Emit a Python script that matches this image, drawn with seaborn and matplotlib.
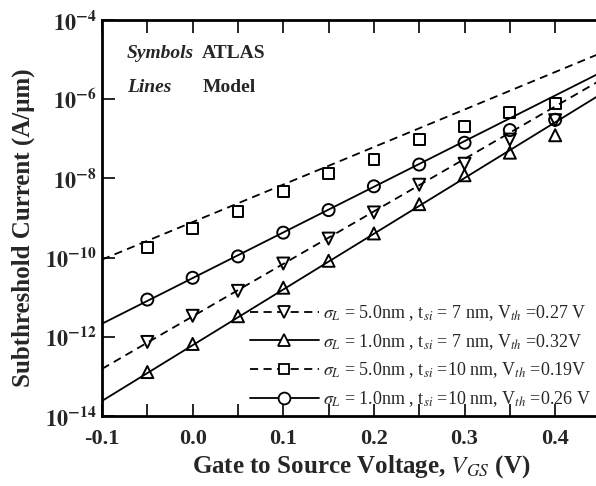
import numpy as np
import pandas as pd
import matplotlib
matplotlib.use("Agg")
import matplotlib.pyplot as plt
import seaborn as sns
from matplotlib.lines import Line2D
from matplotlib.ticker import FixedLocator, MultipleLocator, NullLocator

# ---------------- data (log10 of current, A/um) ----------------
vgs = [-0.05, 0.0, 0.05, 0.10, 0.15, 0.20, 0.25, 0.30, 0.35, 0.40]
atlas_s5_t10 = [-9.75, -9.27, -8.84, -8.33, -7.87, -7.52, -7.01, -6.68, -6.33, -6.10]   # squares
atlas_s1_t10 = [-11.06, -10.51, -9.97, -9.37, -8.80, -8.20, -7.65, -7.10, -6.78, -6.52]  # circles
atlas_s5_t7 = [-12.13, -11.47, -10.84, -10.15, -9.52, -8.86, -8.16, -7.63, -7.02, -6.53]  # down triangles
atlas_s1_t7 = [-12.89, -12.18, -11.48, -10.76, -10.08, -9.39, -8.65, -7.92, -7.35, -6.91]  # up triangles

model_vgs = [-0.10, 0.45]
model_s5_t10 = [-10.05, -4.84]
model_s1_t10 = [-11.67, -5.33]
model_s5_t7 = [-12.81, -5.52]
model_s1_t7 = [-13.62, -5.88]

labels = [
    r"$\sigma_L$ = 5.0nm , t$_{si}$ = 7 nm, V$_{th}$ =0.27 V",
    r"$\sigma_L$ = 1.0nm , t$_{si}$ = 7 nm, V$_{th}$ =0.32V",
    r"$\sigma_L$ = 5.0nm , t$_{si}$ =10 nm, V$_{th}$ =0.19V",
    r"$\sigma_L$ = 1.0nm , t$_{si}$ =10 nm, V$_{th}$ =0.26 V",
]
xticks = [-0.1, 0.0, 0.1, 0.2, 0.3, 0.4]
xticklabels = ["-0.1", "0.0", "0.1", "0.2", "0.3", "0.4"]
ytick_exp = [-14, -12, -10, -8, -6, -4]

# ---------------- style ----------------
sns.set_style("ticks")
plt.rcParams["font.family"] = ["Liberation Serif", "DejaVu Serif"]
plt.rcParams["mathtext.fontset"] = "stix"

fig = plt.figure(figsize=(5.96, 4.86), dpi=100)
W, H = 596, 486
left, right, top, bottom = 102, 600.5, 20, 416
ax = fig.add_axes([left / W, 1 - bottom / H, (right - left) / W, (bottom - top) / H])

series = [
    ("s5_t7", atlas_s5_t7, model_s5_t7, "v", (4.5, 3)),
    ("s1_t7", atlas_s1_t7, model_s1_t7, "^", None),
    ("s5_t10", atlas_s5_t10, model_s5_t10, "s", (4.5, 3)),
    ("s1_t10", atlas_s1_t10, model_s1_t10, "o", None),
]

lw = 1.3
handles = []
for name, atlas, model, mk, dash in series:
    dm = pd.DataFrame({"V": model_vgs, "I": 10.0 ** np.array(model)})
    line_kw = dict(color="black", lw=lw)
    if dash is not None:
        line_kw["dashes"] = dash
    sns.lineplot(data=dm, x="V", y="I", ax=ax, **line_kw)
    da = pd.DataFrame({"V": vgs, "I": 10.0 ** np.array(atlas)})
    sz = 75 if mk != "s" else 60
    sns.scatterplot(data=da, x="V", y="I", ax=ax, marker=mk, s=sz,
                    facecolor="none", edgecolor="black", linewidth=1.4, zorder=3)
    h = Line2D([], [], color="black", lw=lw, marker=mk, ms=8.5 if mk != "s" else 7.5,
               mfc="white", mec="black", mew=1.3,
               linestyle="--" if dash is not None else "-")
    if dash is not None:
        h.set_dashes(dash)
    handles.append(h)

ax.set_yscale("log")
ax.set_xlim(-0.1, 0.45)
ax.set_ylim(1e-14, 1e-4)

ax.xaxis.set_major_locator(FixedLocator(xticks))
ax.set_xticklabels(xticklabels, fontsize=16, fontweight="bold")
ax.xaxis.set_minor_locator(MultipleLocator(0.05))
ax.yaxis.set_major_locator(FixedLocator([10.0 ** e for e in ytick_exp]))
ax.yaxis.set_minor_locator(NullLocator())
ax.set_yticklabels([r"$\mathbf{10^{%d}}$" % e for e in ytick_exp], fontsize=16)

ax.tick_params(which="both", direction="in", top=True, right=False,
               length=9, width=1.4)
ax.tick_params(axis="x", pad=9)
ax.tick_params(axis="y", pad=4)
for sp in ax.spines.values():
    sp.set_linewidth(2)
    sp.set_color("black")

ax.set_xlabel(r"Gate to Source Voltage, $\boldsymbol{V_{GS}}$ (V)", fontsize=18, fontweight="bold")
ax.xaxis.set_label_coords(0.52, -0.095)
ax.set_ylabel("Subthreshold Current (A/μm)", fontsize=18, fontweight="bold")
ax.yaxis.set_label_coords(-0.135, 0.475)

fig.text(127 / W, 1 - 53 / H, "Symbols", fontsize=14, style="italic", fontweight="bold", va="center")
fig.text(202 / W, 1 - 53 / H, "ATLAS", fontsize=14, fontweight="bold", va="center")
fig.text(127 / W, 1 - 87 / H, "Lines", fontsize=14, style="italic", fontweight="bold", va="center")
fig.text(203 / W, 1 - 87 / H, "Model", fontsize=14, fontweight="bold", va="center")

leg = ax.legend(handles, labels, loc="upper left",
                bbox_to_anchor=(250 / W, 1 - 303 / H), bbox_transform=fig.transFigure,
                frameon=False, fontsize=13, handlelength=3.8, handletextpad=0.25,
                labelspacing=0.5, borderpad=0, borderaxespad=0)

fig.savefig("out.png", dpi=100)
